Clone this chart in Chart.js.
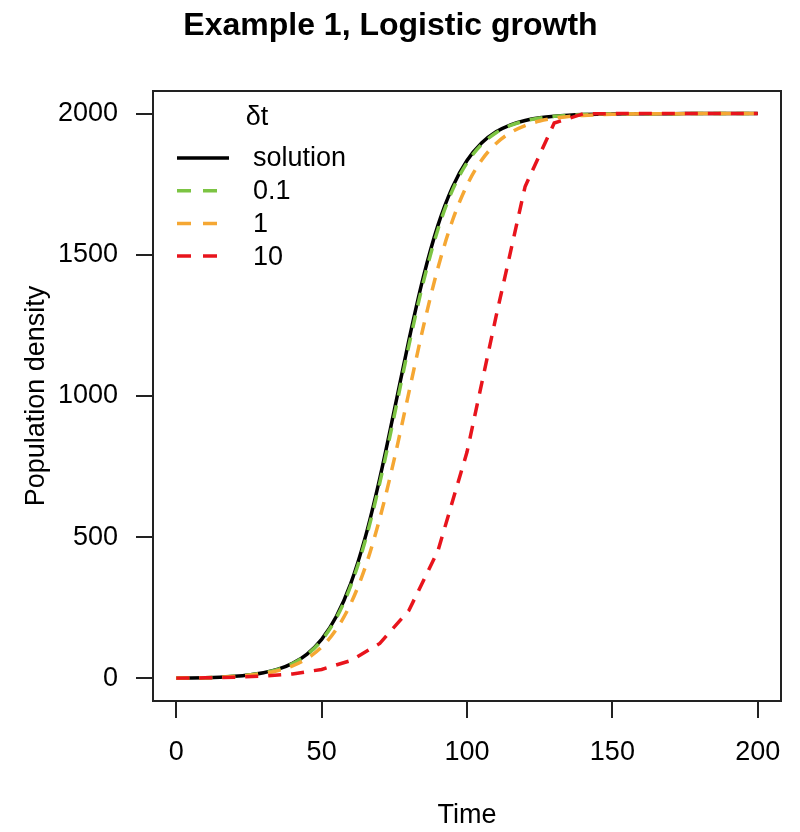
<!DOCTYPE html>
<html>
<head>
<meta charset="utf-8">
<script src="https://cdn.jsdelivr.net/npm/chart.js@4"></script>
<style>
  body { margin: 0; background: #fff; }
</style>
</head>
<body>
<canvas id="grafico" width="800" height="832"></canvas>
<script>
// Valores
const tiempo = [0, 5, 10, 15, 20, 25, 30, 35, 40, 45, 50, 55, 60, 65, 70, 75, 80, 85, 90, 95, 100,
    105, 110, 115, 120, 125, 130, 135, 140, 145, 150, 155, 160, 165, 170, 175, 180, 185, 190, 195, 200];
const tiempo10 = [0, 10, 20, 30, 40, 50, 60, 70, 80, 90, 100, 110, 120, 130, 140, 150, 160, 170, 180, 190, 200];

const solucion = [1, 1.6, 2.7, 4.5, 7.4, 12.1, 19.9, 32.6, 53.2, 86.2, 138.2, 218.1, 335.8, 499.3, 708.5,
    949.8, 1197.2, 1421.7, 1604.2, 1739.7, 1833.6, 1895.6, 1935.4, 1960.3, 1975.7, 1985.2, 1991.0,
    1994.5, 1996.7, 1998.0, 1998.8, 1999.3, 1999.5, 1999.7, 1999.8, 1999.9, 1999.9, 2000, 2000, 2000, 2000];
const dt01 = [1, 1.6, 2.7, 4.4, 7.3, 12.0, 19.6, 32.0, 52.2, 84.4, 135.1, 212.9, 327.6, 487.3, 692.7,
    931.3, 1178.1, 1404.3, 1589.9, 1728.9, 1825.9, 1890.4, 1931.9, 1958.0, 1974.3, 1984.3, 1990.4,
    1994.2, 1996.4, 1997.8, 1998.7, 1999.2, 1999.5, 1999.7, 1999.8, 1999.9, 1999.9, 2000, 2000, 2000, 2000];
const dt1 = [1, 1.6, 2.6, 4.2, 6.7, 10.8, 17.3, 27.7, 44.3, 70.4, 110.9, 172.8, 264.4, 394.0, 566.4,
    777.7, 1012.2, 1245.4, 1453.2, 1621.3, 1746.6, 1834.7, 1894.1, 1932.9, 1957.8, 1973.6, 1983.5,
    1989.7, 1993.6, 1996.0, 1997.5, 1998.5, 1999.1, 1999.4, 1999.6, 1999.8, 1999.9, 2000, 2000, 2000, 2000];
const dt10 = [1, 2.0, 4.0, 8.0, 15.9, 31.7, 63.0, 124.0, 240.3, 451.7, 801.4, 1281.7, 1742.0, 1966.7,
    1999.4, 2000, 2000, 2000, 2000, 2000, 2000];

const ticksX = [0, 50, 100, 150, 200];
const ticksY = [0, 500, 1000, 1500, 2000];

const etiquetas = ["solution", "0.1", "1", "10"];
const colores = ["#000000", "#7cc443", "#f5a733", "#e8141c"];

function puntos(xs, ys) {
    return xs.map((x, i) => ({ x: x, y: ys[i] }));
}

Chart.defaults.font.family = '"Liberation Sans", Arial, Helvetica, sans-serif';
Chart.defaults.color = "#000";

// leyenda dibujada dentro del área del gráfico, como en R
const leyendaDelta = {
    id: "leyendaDelta",
    afterDraw(chart) {
        const ctx = chart.ctx;
        const a = chart.chartArea;
        ctx.save();
        ctx.strokeStyle = "#222";
        ctx.lineWidth = 2;
        ctx.setLineDash([]);
        ctx.strokeRect(a.left, a.top, a.right - a.left, a.bottom - a.top);

        ctx.font = '27px "Liberation Sans", Arial, sans-serif';
        ctx.fillStyle = "#000";
        ctx.textBaseline = "middle";
        ctx.textAlign = "center";
        ctx.fillText("δt", a.left + 104, a.top + 27);
        ctx.textAlign = "left";
        chart.data.datasets.forEach((ds, i) => {
            const y = a.top + 67 + i * 32.7;
            ctx.strokeStyle = ds.borderColor;
            ctx.lineWidth = ds.borderWidth;
            ctx.setLineDash(ds.borderDash.length ? [14, 12] : []);
            ctx.beginPath();
            ctx.moveTo(a.left + 24, y);
            ctx.lineTo(a.left + 76, y);
            ctx.stroke();
            ctx.setLineDash([]);
            ctx.fillText(ds.label, a.left + 100, y + 1);
        });
        ctx.restore();
    }
};

const ctx = document.getElementById("grafico");

new Chart(ctx, {
    type: "line",
    data: {
        datasets: [
            { label: etiquetas[0], data: puntos(tiempo, solucion), borderColor: colores[0], borderDash: [], order: 4, cubicInterpolationMode: "monotone" },
            { label: etiquetas[1], data: puntos(tiempo, dt01), borderColor: colores[1], borderDash: [13, 10], order: 3, cubicInterpolationMode: "monotone" },
            { label: etiquetas[2], data: puntos(tiempo, dt1), borderColor: colores[2], borderDash: [13, 10], order: 2, cubicInterpolationMode: "monotone" },
            { label: etiquetas[3], data: puntos(tiempo10, dt10), borderColor: colores[3], borderDash: [13, 10], order: 1 }
        ].map(ds => Object.assign(ds, { borderWidth: 3.5, pointRadius: 0, fill: false }))
    },
    options: {
        responsive: false,
        animation: false,
        layout: { padding: { right: 19, left: 0, bottom: 0 } },
        scales: {
            x: {
                type: "linear",
                min: -8,
                max: 208,
                afterBuildTicks: s => { s.ticks = ticksX.map(v => ({ value: v })); },
                afterFit: s => { s.height = 131; },
                border: { display: false },
                grid: { drawOnChartArea: false, drawTicks: true, tickLength: 17, color: "#222", lineWidth: 2 },
                ticks: { font: { size: 27 }, padding: 18, maxRotation: 0, callback: v => String(v) },
                title: { display: true, text: "Time", font: { size: 27 }, padding: { top: 0, bottom: 0 } }
            },
            y: {
                type: "linear",
                min: -80,
                max: 2080,
                afterBuildTicks: s => { s.ticks = ticksY.map(v => ({ value: v })); },
                afterFit: s => { s.width = 153; },
                border: { display: false },
                grid: { drawOnChartArea: false, drawTicks: true, tickLength: 17, color: "#222", lineWidth: 2 },
                ticks: { font: { size: 27 }, padding: 18, callback: v => String(v) },
                title: { display: true, text: "Population density", font: { size: 27 }, padding: { top: 20, bottom: 0 } }
            }
        },
        plugins: {
            legend: { display: false },
            tooltip: { enabled: false },
            title: {
                display: true,
                text: "Example 1, Logistic growth",
                font: { size: 32, weight: "bold" },
                padding: { top: 7, bottom: 45.6 }
            }
        }
    },
    plugins: [leyendaDelta]
});
</script>
</body>
</html>
